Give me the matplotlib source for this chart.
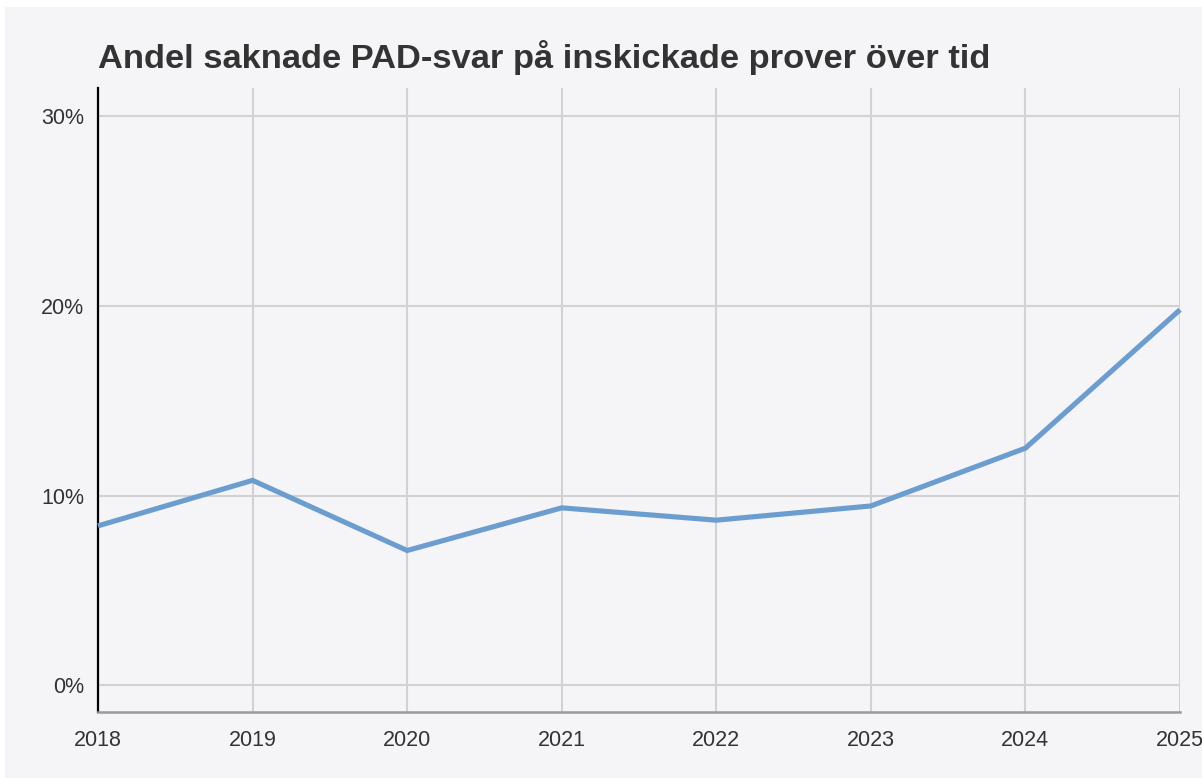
import matplotlib.pyplot as plt
from matplotlib.patches import Rectangle
from matplotlib.ticker import FuncFormatter

years = [2018, 2019, 2020, 2021, 2022, 2023, 2024, 2025]
missing_share = [8.4, 10.8, 7.1, 9.35, 8.7, 9.45, 12.5, 19.8]

bg = '#f5f4f7'
W, H = 1202, 778

plt.rcParams['font.family'] = ['Liberation Sans', 'DejaVu Sans']

fig = plt.figure(figsize=(W / 100, H / 100), dpi=100, facecolor=bg)
# thin white margin at top and left like the screenshot
fig.patches.append(Rectangle((0, 1 - 7 / H), 1, 7 / H, transform=fig.transFigure,
                             facecolor='white', edgecolor='none', zorder=0))
fig.patches.append(Rectangle((0, 0), 5 / W, 1, transform=fig.transFigure,
                             facecolor='white', edgecolor='none', zorder=0))

ax = fig.add_axes([98 / W, 66 / H, (1180 - 98) / W, (712 - 88) / H])
ax.set_facecolor(bg)

ax.plot(years, missing_share, color='#6c9dcf', lw=3.7, solid_capstyle='butt',
        solid_joinstyle='miter', zorder=3, clip_on=False)

ax.set_xlim(2018, 2025)
ax.set_ylim(-1.42, 31.5)
ax.set_xticks(years)
ax.set_yticks([0, 10, 20, 30])
ax.yaxis.set_major_formatter(FuncFormatter(lambda v, p: f'{v:.0f}%'))

ax.grid(True, color='#d2d2d4', lw=1.5, zorder=1)
ax.tick_params(length=0, labelsize=15.5, colors='#333333')
ax.tick_params(axis='x', pad=13)
ax.tick_params(axis='y', pad=10)

for s in ['top', 'right']:
    ax.spines[s].set_visible(False)
ax.spines['left'].set_color('black')
ax.spines['left'].set_linewidth(1.6)
ax.spines['bottom'].set_color('#9a9a9a')
ax.spines['bottom'].set_linewidth(1.8)

fig.text(98 / W, 1 - 68 / H, 'Andel saknade PAD-svar på inskickade prover över tid',
         fontsize=24.8, fontweight='bold', color='#333333', va='baseline', ha='left')

fig.savefig('out.png', dpi=100, facecolor=bg)
